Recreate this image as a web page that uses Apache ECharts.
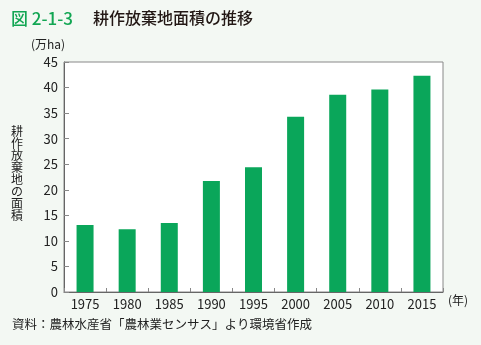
<!DOCTYPE html>
<html><head><meta charset="utf-8">
<script src="https://cdn.jsdelivr.net/npm/echarts@6/dist/echarts.min.js"></script>
<style>html,body{margin:0;padding:0;background:#f3f8f3;}#c{width:481px;height:345px;}</style>
</head><body><div id="c"></div>
<script>
const categories = ['1975','1980','1985','1990','1995','2000','2005','2010','2015'];
const values = [13.1, 12.3, 13.5, 21.7, 24.4, 34.3, 38.6, 39.6, 42.3];
const yTicks = [0,5,10,15,20,25,30,35,40,45];
const F = '"Noto Sans CJK JP", "Noto Sans", sans-serif';
const chart = echarts.init(document.getElementById('c'));
chart.setOption({
  backgroundColor: '#f3f8f3',
  animation: false,
  grid: {left: 64, right: 38, top: 62, bottom: 53, show: true, backgroundColor: '#fff', borderColor: '#888', borderWidth: 1},
  xAxis: {
    type: 'category', data: categories,
    axisLine: {lineStyle: {color: '#666'}},
    axisTick: {show: true, inside: true, length: 4, lineStyle: {color: '#888'}},
    axisLabel: {color: '#222', fontSize: 13, fontFamily: F, margin: 6}
  },
  yAxis: {
    type: 'value', min: 0, max: 45, interval: 5,
    axisLine: {show: true, lineStyle: {color: '#666'}},
    axisTick: {show: true, inside: true, length: 5, lineStyle: {color: '#888'}},
    splitLine: {show: false},
    axisLabel: {color: '#222', fontSize: 13, fontFamily: F, margin: 6}
  },
  series: [{type: 'bar', data: values, barWidth: 17, itemStyle: {color: '#0aa65a'}}],
  graphic: [
    {type: 'text', left: 11, top: 10, style: {text: '図 2-1-3', fill: '#12a653', font: '500 17px ' + F}},
    {type: 'text', left: 93, top: 10, style: {text: '耕作放棄地面積の推移', fill: '#231815', font: '500 16px ' + F}},
    {type: 'text', left: 31, top: 38, style: {text: '(万ha)', fill: '#222', font: '12px ' + F}},
    {type: 'text', left: 11, top: 125, style: {text: '耕\n作\n放\n棄\n地\nの\n面\n積', fill: '#222', font: '12px ' + F, lineHeight: 12}},
    {type: 'text', left: 448, top: 294, style: {text: '(年)', fill: '#222', font: '12px ' + F}},
    {type: 'text', left: 12, top: 318, style: {text: '資料：農林水産省「農林業センサス」より環境省作成', fill: '#222', font: '12.5px ' + F}}
  ]
});
</script></body></html>
